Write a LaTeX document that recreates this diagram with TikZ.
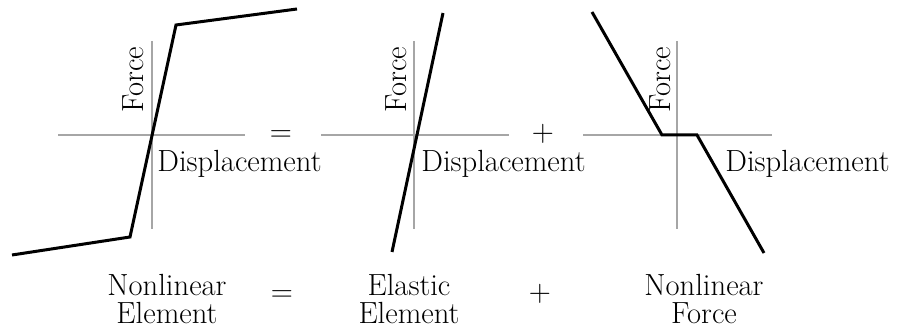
\documentclass[tikz,border=0pt]{standalone}
\usepackage{tikz}
\usetikzlibrary{positioning, calc}

\begin{document}
\begin{tikzpicture}[
    x=0.5pt, y=-0.5pt,
    axis/.style={draw=gray!70, line width=0.6pt},
    curve/.style={draw=black, line width=1.5pt, line join=miter},
    lbl/.style={font=\fontsize{15.3}{16}\selectfont, inner sep=0pt},
    ylbl/.style={lbl, rotate=90},
    xlbl/.style={lbl, anchor=base west},
    captxt/.style={lbl, align=center, font=\fontsize{15.3}{14}\selectfont}
]
\useasboundingbox (0,0) rectangle (904,330);

% Nonlinear element
\coordinate (o1) at (152,135);
\draw[axis] (58,135) -- (245,135);
\draw[axis] (152,41) -- (152,229);
\coordinate (a1) at (12,255);
\coordinate (b1) at (130,237);
\coordinate (c1) at (176,25);
\coordinate (d1) at (297,9);
\draw[curve] (a1) -- (b1) -- (c1) -- (d1);
\node[ylbl] (f1) at (133,80) {Force};
\node[xlbl] (x1) at (157,172) {Displacement};
\node[lbl] (eq1) at (281,136) {=};

% Elastic element
\coordinate (o2) at (414,135);
\draw[axis] (321,135) -- (509,135);
\draw[axis] (414,41) -- (414,229);
\coordinate (a2) at (392,252);
\coordinate (b2) at (443,13);
\draw[curve] (a2) -- (b2);
\node[ylbl] (f2) at (396,80) {Force};
\node[xlbl] (x2) at (421,172) {Displacement};
\node[lbl] (pl1) at (543,134) {+};

% Nonlinear force
\coordinate (o3) at (677,135);
\draw[axis] (583,135) -- (772,135);
\draw[axis] (677,41) -- (677,229);
\coordinate (a3) at (592,12);
\coordinate (b3) at (662,135);
\coordinate (c3) at (697,135);
\coordinate (d3) at (764,253);
\draw[curve] (a3) -- (b3) -- (c3) -- (d3);
\node[ylbl] (f3) at (660,80) {Force};
\node[xlbl] (x3) at (725,172) {Displacement};

% Captions
\node[captxt] (nl) at (167,299) {Nonlinear\\Element};
\node[lbl] (eq2) at (282,296) {=};
\node[captxt] (el) at (409,299) {Elastic\\Element};
\node[lbl] (pl2) at (540,294) {+};
\node[captxt] (nf) at (704,299) {Nonlinear\\Force};

\end{tikzpicture}
\end{document}
